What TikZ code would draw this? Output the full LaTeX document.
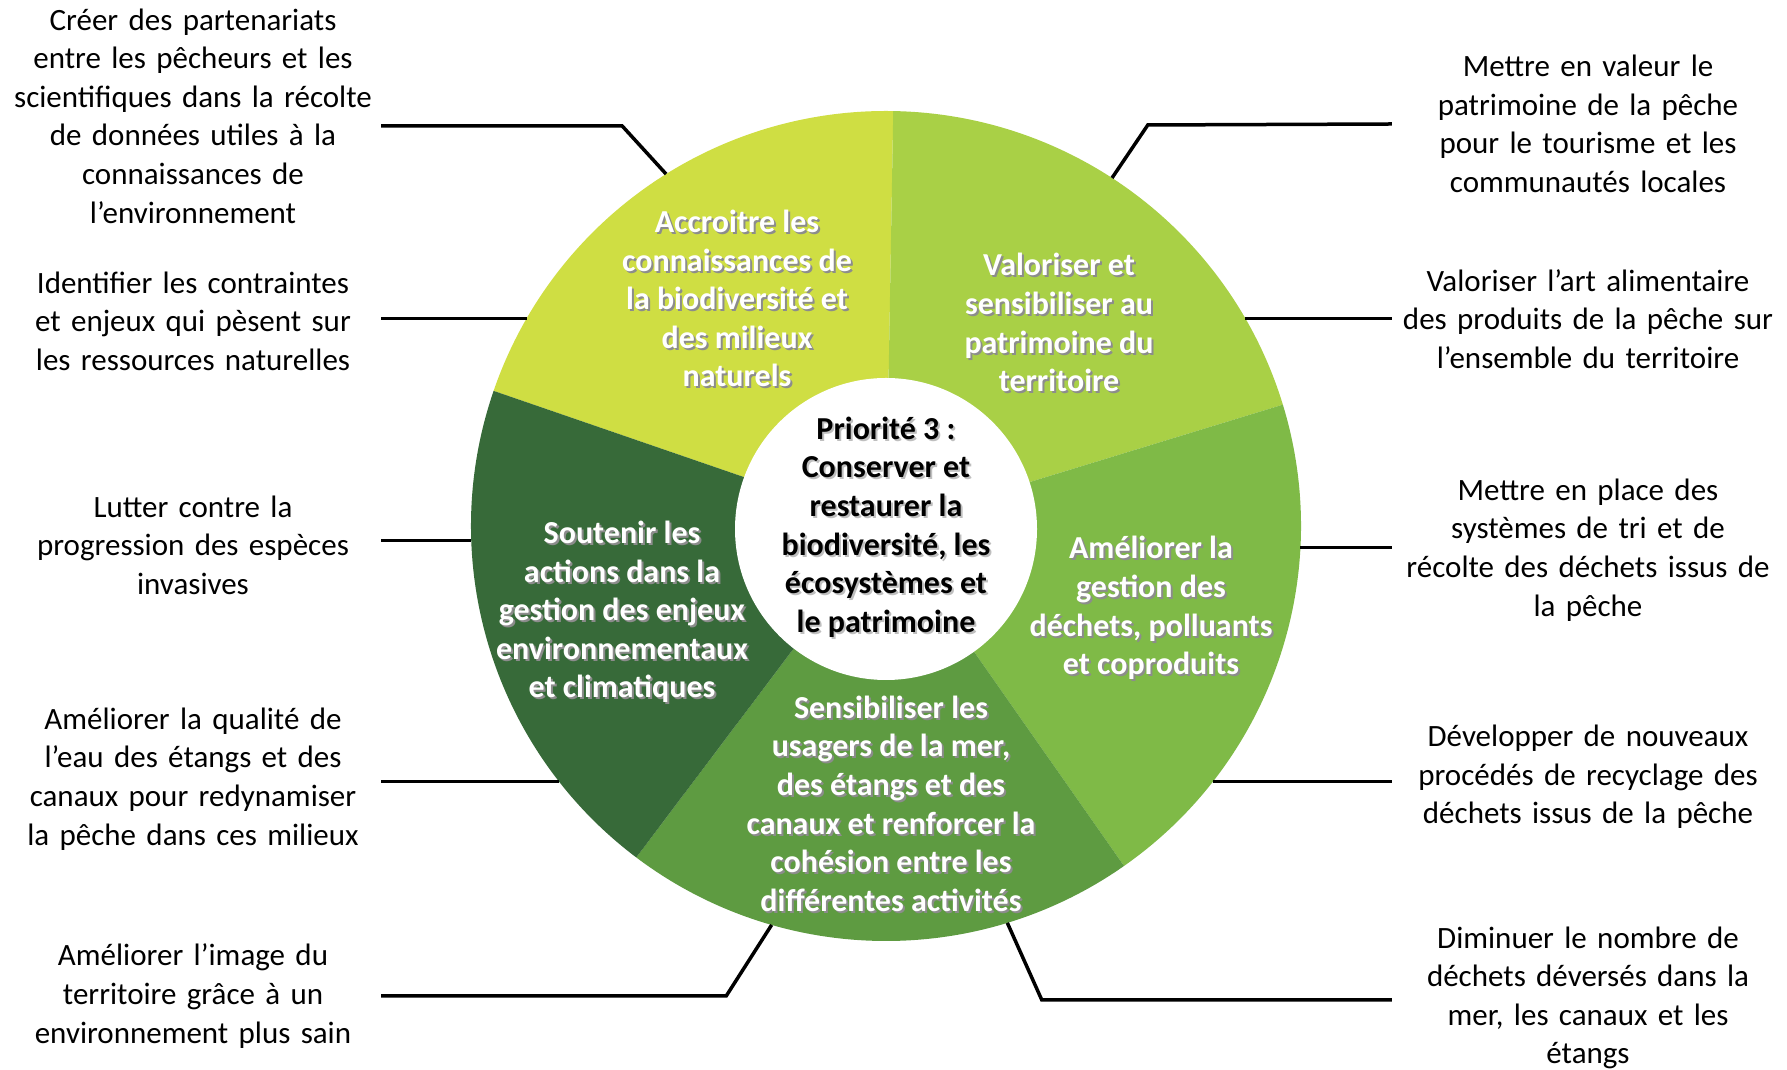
\documentclass[tikz,border=0pt]{standalone}
\usepackage{fontspec}
\setmainfont{Carlito}
\usepackage{xcolor}
\usetikzlibrary{calc}

\definecolor{segA}{HTML}{CFDE43}
\definecolor{segB}{HTML}{A9D046}
\definecolor{segC}{HTML}{7FBA47}
\definecolor{segD}{HTML}{5E9B41}
\definecolor{segE}{HTML}{376A39}

% text with a soft drop shadow
\newcommand{\shadowed}[2]{\leavevmode\rlap{\raisebox{-2pt}{\hspace{2pt}\textcolor{#1}{\begin{tabular}{@{}c@{}}#2\end{tabular}}}}\begin{tabular}{@{}c@{}}#2\end{tabular}}

\begin{document}
\begin{tikzpicture}[
    x=1pt, y=1pt,
    segtext/.style={text=white, font=\bfseries\fontsize{32}{38.6}\selectfont, inner sep=0pt},
    goal/.style={text=black, font=\fontsize{31}{38.6}\selectfont, align=center, inner sep=4pt},
    leftgoal/.style={goal, text width=368pt},
    rightgoal/.style={goal, text width=384pt},
    hub/.style={circle, fill=white, minimum size=302pt, inner sep=-10pt, font=\bfseries\fontsize{32}{38.6}\selectfont},
    link/.style={draw=black, line width=3.5pt}
]
    \useasboundingbox (0,0) rectangle (1787,1070);

    % Wheel
    \node[circle, minimum size=830pt, inner sep=0pt, outer sep=0pt] (wheel) at (886,544) {};
    \foreach \a/\b/\c in {89/161/segA, 17/89/segB, 305/377/segC, 233/305/segD, 161/233/segE}
        \fill[\c] (wheel.center) -- (wheel.\a) arc[start angle=\a, end angle=\b, radius=415pt] -- cycle;
    \node[hub, yshift=-3pt] (hub) at (wheel.center) {\shadowed{black!25}{Priorité 3 :\\Conserver et\\restaurer la\\biodiversité, les\\écosystèmes et\\le patrimoine}};

    % Segments
    \node[segtext] (know) at (737,767) {\shadowed{black!45}{Accroitre les\\connaissances de\\la biodiversité et\\des milieux\\naturels}};
    \node[segtext] (herit) at (1059,743) {\shadowed{black!45}{Valoriser et\\sensibiliser au\\patrimoine du\\territoire}};
    \node[segtext] (waste) at (1151,460) {\shadowed{black!45}{Améliorer la\\gestion des\\déchets, polluants\\et coproduits}};
    \node[segtext] (users) at (891,262) {\shadowed{black!45}{Sensibiliser les\\usagers de la mer,\\des étangs et des\\canaux et renforcer la\\cohésion entre les\\différentes activités}};
    \node[segtext] (climate) at (622,456) {\shadowed{black!45}{Soutenir les\\actions dans la\\gestion des enjeux\\environnementaux\\et climatiques}};

    % Actions left
    \node[leftgoal] (crea) at (193,954) {Créer des partenariats\\entre les pêcheurs et les\\scientifiques dans la récolte\\de données utiles à la\\connaissances de\\l’environnement};
    \node[leftgoal] (cont) at (193,749) {Identifier les contraintes\\et enjeux qui pèsent sur\\les ressources naturelles};
    \node[leftgoal] (inva) at (193,525) {Lutter contre la\\progression des espèces\\invasives};
    \node[leftgoal] (eau) at (193,291) {Améliorer la qualité de\\l’eau des étangs et des\\canaux pour redynamiser\\la pêche dans ces milieux};
    \node[leftgoal] (image) at (193,74) {Améliorer l’image du\\territoire grâce à un\\environnement plus sain};

    % Actions right
    \node[rightgoal] (tour) at (1588,946) {Mettre en valeur le\\patrimoine de la pêche\\pour le tourisme et les\\communautés locales};
    \node[rightgoal] (art) at (1588,751) {Valoriser l’art alimentaire\\des produits de la pêche sur\\l’ensemble du territoire};
    \node[rightgoal] (tri) at (1588,520) {Mettre en place des\\systèmes de tri et de\\récolte des déchets issus de\\la pêche};
    \node[rightgoal] (recy) at (1588,293) {Développer de nouveaux\\procédés de recyclage des\\déchets issus de la pêche};
    \node[rightgoal] (rejet) at (1588,72) {Diminuer le nombre de\\déchets déversés dans la\\mer, les canaux et les\\étangs};

    % Links
    \draw[link] ([yshift=-10pt]crea.east) -- ++(241,0) -- (wheel.122.5);
    \draw[link] (cont.east |- wheel.150) -- (wheel.150);
    \draw[link] (inva.east |- wheel.182.5) -- (wheel.182.5);
    \draw[link] (eau.east |- wheel.218) -- (wheel.218);
    \draw[link] (image.east) -- ++(345,0) -- (wheel.254);
    \draw[link] (tour.west) -- ++(-244,-1) -- (wheel.57.5);
    \draw[link] (art.west |- wheel.30.5) -- (wheel.30.5);
    \draw[link] (tri.west |- wheel.357) -- (wheel.357);
    \draw[link] (recy.west |- wheel.322.5) -- (wheel.322.5);
    \draw[link] ([yshift=-2pt]rejet.west) -- ++(-350,0) -- (wheel.287);
\end{tikzpicture}
\end{document}
